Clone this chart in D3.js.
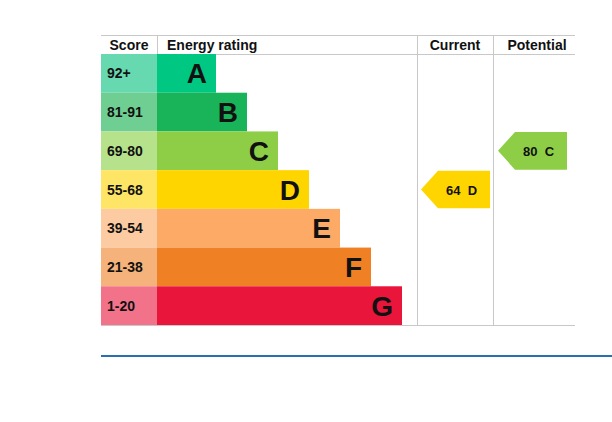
<!DOCTYPE html>
<html><head><meta charset="utf-8">
<script src="https://cdn.jsdelivr.net/npm/d3@7"></script>
<style>body{margin:0;background:#fff}text{font-family:Arial,"Liberation Sans",sans-serif}</style>
</head><body>
<svg id="epc" width="612" height="422"></svg>
<script>
var bands = ["A", "B", "C", "D", "E", "F", "G"];
var ranges = ["92+", "81-91", "69-80", "55-68", "39-54", "21-38", "1-20"];
var mins = [92, 81, 69, 55, 39, 21, 1];
var barColors = ["#00c781", "#19b459", "#8dce46", "#ffd500", "#fcaa65", "#ef8023", "#e9153b"];
var scoreColors = ["#66d9b0", "#6fcf92", "#b6e28c", "#ffe566", "#fdcba2", "#f5b27a", "#f27389"];
var currentScore = 64, potentialScore = 80;

var svg = d3.select("#epc");
var grid = "#c8c8c8";
var y = d3.scaleBand().domain(bands).range([54, 325]).padding(0);
var barEnd = d3.scaleLinear().domain([0, 6]).range([216, 402]);

function bandOf(s) { return bands[mins.findIndex(function(m) { return s >= m; })]; }

// grid lines
svg.append("line").attr("x1", 101).attr("x2", 575).attr("y1", 35.5).attr("y2", 35.5).attr("stroke", grid);
svg.append("line").attr("x1", 101).attr("x2", 575).attr("y1", 54.5).attr("y2", 54.5).attr("stroke", grid);
svg.append("line").attr("x1", 101).attr("x2", 575).attr("y1", 325.5).attr("y2", 325.5).attr("stroke", grid);
[157, 417, 493].forEach(function(x, i) {
    svg.append("line").attr("x1", x + 0.5).attr("x2", x + 0.5)
        .attr("y1", 35).attr("y2", i == 0 ? 54 : 325).attr("stroke", grid);
});
svg.append("line").attr("x1", 101).attr("x2", 612).attr("y1", 356).attr("y2", 356)
    .attr("stroke", "#2a70b0").attr("stroke-width", 2);

// headers
var heads = [["Score", 129], ["Energy rating", 167], ["Current", 455], ["Potential", 537]];
svg.selectAll(".head").data(heads).enter().append("text")
    .attr("x", function(d) { return d[1]; }).attr("y", 50)
    .attr("text-anchor", function(d, i) { return i == 1 ? "start" : "middle"; })
    .attr("font-size", 14).attr("font-weight", "bold").attr("fill", "#111")
    .text(function(d) { return d[0]; });

var rows = svg.selectAll(".row").data(bands).enter().append("g");
rows.append("rect").attr("x", 101).attr("width", 56)
    .attr("y", function(d) { return y(d); }).attr("height", y.bandwidth())
    .attr("fill", function(d, i) { return scoreColors[i]; });
rows.append("rect").attr("x", 157)
    .attr("width", function(d, i) { return barEnd(i) - 157; })
    .attr("y", function(d) { return y(d); }).attr("height", y.bandwidth())
    .attr("fill", function(d, i) { return barColors[i]; });
rows.append("text").attr("x", 107)
    .attr("y", function(d) { return y(d) + y.bandwidth() / 2 + 5; })
    .attr("font-size", 14).attr("font-weight", "bold").attr("fill", "#111")
    .text(function(d, i) { return ranges[i]; });
rows.append("text").attr("x", function(d, i) { return barEnd(i) - 9; })
    .attr("y", function(d) { return y(d) + y.bandwidth() / 2 + 10; })
    .attr("text-anchor", "end").attr("font-size", 28).attr("font-weight", "bold").attr("fill", "#111")
    .text(function(d) { return d; });

function arrow(score, x0, x1) {
    var b = bandOf(score), i = bands.indexOf(b);
    var t = y(b) + 0.5, h = y.bandwidth() - 1, m = t + h / 2;
    svg.append("path")
        .attr("d", "M" + x0 + "," + m + "L" + (x0 + 17) + "," + t + "L" + x1 + "," + t +
            "L" + x1 + "," + (t + h) + "L" + (x0 + 17) + "," + (t + h) + "Z")
        .attr("fill", barColors[i]);
    svg.append("text").attr("x", (x0 + x1) / 2 + 6).attr("y", m + 5)
        .attr("text-anchor", "middle").attr("font-size", 13).attr("font-weight", "bold").attr("fill", "#111")
        .attr("xml:space", "preserve").text(score + "  " + b);
}
arrow(currentScore, 421, 490);
arrow(potentialScore, 498, 567);
</script>
</body></html>
